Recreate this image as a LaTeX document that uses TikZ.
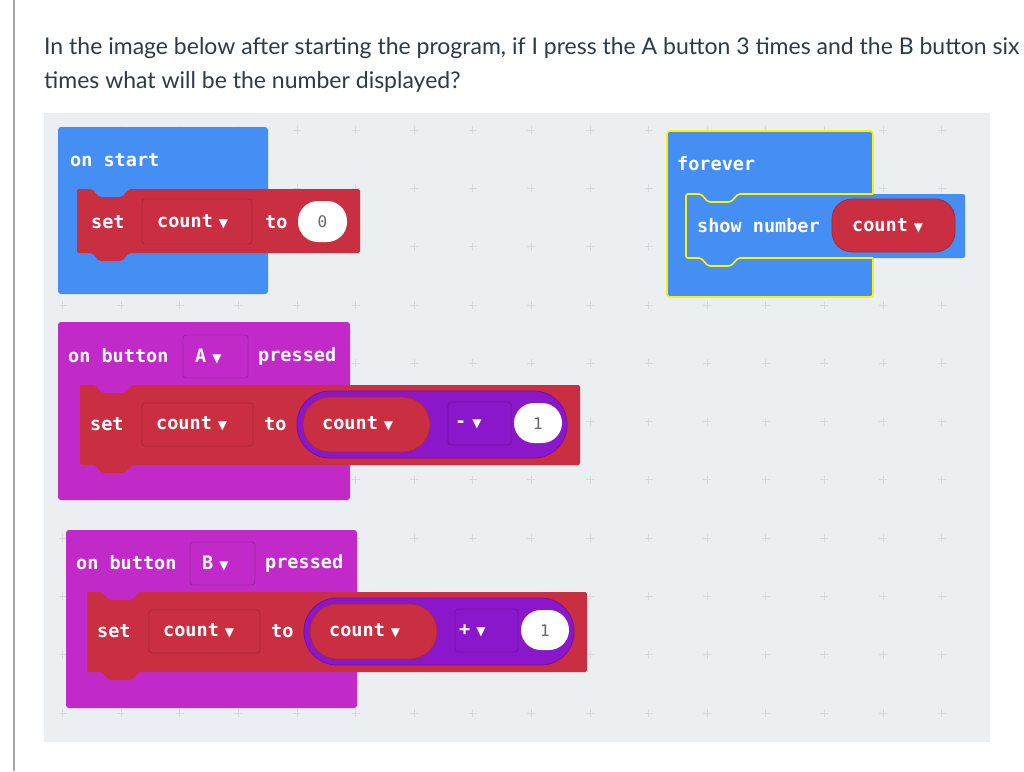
\documentclass[tikz,border=0pt]{standalone}
\usepackage{fontspec}
\setmainfont{Lato}
\newfontfamily\mono{DejaVu Sans Mono Bold}
\newfontfamily\monor{DejaVu Sans Mono}
\newfontfamily\dv{DejaVu Sans}
\definecolor{wsbg}{HTML}{ECEFF1}
\definecolor{mbblue}{HTML}{458EF4}
\definecolor{mbred}{HTML}{C92F41}
\definecolor{mbredd}{HTML}{A82838}
\definecolor{mbpurp}{HTML}{C12AC8}
\definecolor{mbop}{HTML}{8A17C9}
\definecolor{mbopd}{HTML}{7410AA}
\definecolor{mbyel}{HTML}{FFF200}
\definecolor{qtext}{HTML}{2D3B45}
\definecolor{plusc}{HTML}{D6DADD}
\newcommand{\dd}{\hspace{6pt}{\dv\fontsize{12}{12}\selectfont ▼}}
\newcommand{\stmtpath}[4]{% x y w h
  (#1,#2) -- ++(15,0) -- ++(7,8) -- ++(23,0) -- ++(7,-8) -- (#1+#3,#2) -- (#1+#3,#2+#4)
  -- (#1+52,#2+#4) -- ++(-7,8) -- ++(-23,0) -- ++(-7,-8) -- (#1,#2+#4) -- cycle}
\tikzset{
  bt/.style={text=white,font=\mono\fontsize{18.5}{19}\selectfont,anchor=west,inner sep=0pt},
  num/.style={text=gray!80!black,font=\monor\fontsize{16}{16}\selectfont},
  qt/.style={text=qtext,font=\fontsize{23}{26}\selectfont,anchor=base west,inner sep=0pt},
  ddbox/.style={draw=mbredd,line width=0.8pt,rounded corners=3pt},
  pill/.style={rounded corners=20pt},
}
\begin{document}
\begin{tikzpicture}[x=1pt,y=-1pt]
\useasboundingbox (0,0) rectangle (1024,771);
\fill[white] (0,0) rectangle (1024,771);
\draw[gray!70,line width=1.5pt] (14,0) -- (14,771);
\node[qt] (q1) at (44,54) {In the image below after starting the program, if I press the A button 3 times and the B button six};
\node[qt] (q2) at (44,88) {times what will be the number displayed?};
% workspace
\fill[wsbg] (44,113) rectangle (990,742);
\foreach \i in {0,...,15}{\foreach \j in {0,...,10}{
  \draw[plusc,line width=0.7pt] ({62.6+58.6*\i-4},{130+58.3*\j}) -- ++(8,0) ({62.6+58.6*\i},{130+58.3*\j-4}) -- ++(0,8);}}
% on start
\fill[mbblue,rounded corners=3pt] (58,127) rectangle (268,294);
\node[bt] (os) at (70,160) {on start};
\fill[mbred,rounded corners=2pt] \stmtpath{77}{189}{283}{64};
\node[bt] (s1) at (91,222) {set};
\draw[ddbox] (142,199) rectangle (252,244);
\node[bt] (c1) at (157,222) {count\dd};
\node[bt] (t1) at (265,222) {to};
\fill[white,pill] (298,201) rectangle (347,242);
\node[num] (z1) at (322.5,222) {0};
% forever
\fill[mbblue,rounded corners=3pt] (667,131) rectangle (873,297);
\draw[mbyel,line width=1.6pt,rounded corners=3pt] (667,131) rectangle (873,297);
\node[bt] (fv) at (677,164) {forever};
\fill[mbblue,rounded corners=2pt] \stmtpath{686}{194}{279}{64};
\begin{scope}
\clip (600,150) rectangle (873,300);
\draw[mbyel,line width=1.6pt,rounded corners=2pt] \stmtpath{686}{194}{279}{64};
\end{scope}
\node[bt] (sn) at (697,226) {show number};
\fill[mbred,pill] (832,199) rectangle (955,252);
\draw[mbredd,line width=0.8pt,pill] (832,199) rectangle (955,252);
\node[bt] (c0) at (852,226) {count\dd};
% on button A
\fill[mbpurp,rounded corners=3pt] (58,322) rectangle (350,500);
\node[bt] (oa) at (68,356) {on button};
\draw[mbpurp!80!black,line width=0.8pt,rounded corners=3pt] (183,335) rectangle (248,378);
\node[bt] (ba) at (195,356) {A\dd};
\node[bt] (pa) at (258,356) {pressed};
\fill[mbred,rounded corners=2pt] \stmtpath{80}{385}{500}{80};
\node[bt] (s2) at (90,424) {set};
\draw[ddbox] (142,403) rectangle (253,446);
\node[bt] (c2) at (156,424) {count\dd};
\node[bt] (t2) at (264,424) {to};
\fill[mbop,rounded corners=33pt] (297,391) rectangle (567,458);
\draw[mbopd,line width=0.8pt,rounded corners=33pt] (297,391) rectangle (567,458);
\fill[mbred,rounded corners=27pt] (303,397) rectangle (430,452);
\draw[mbredd,line width=0.8pt,rounded corners=27pt] (303,397) rectangle (430,452);
\node[bt] (c3) at (322,424) {count\dd};
\draw[mbopd,line width=0.8pt,rounded corners=3pt] (448,402) rectangle (511,445);
\node[bt] (m1) at (455,424) {-\dd};
\fill[white,pill] (514,403) rectangle (562,443);
\node[num] (o1) at (538,424) {1};
% on button B
\fill[mbpurp,rounded corners=3pt] (66,530) rectangle (357,708);
\node[bt] (ob) at (76,563) {on button};
\draw[mbpurp!80!black,line width=0.8pt,rounded corners=3pt] (190,542) rectangle (255,585);
\node[bt] (bb) at (202,563) {B\dd};
\node[bt] (pb) at (265,563) {pressed};
\fill[mbred,rounded corners=2pt] \stmtpath{87}{592}{500}{80};
\node[bt] (s3) at (97,631) {set};
\draw[ddbox] (149,610) rectangle (260,653);
\node[bt] (c4) at (163,631) {count\dd};
\node[bt] (t3) at (271,631) {to};
\fill[mbop,rounded corners=33pt] (304,598) rectangle (574,665);
\draw[mbopd,line width=0.8pt,rounded corners=33pt] (304,598) rectangle (574,665);
\fill[mbred,rounded corners=27pt] (310,604) rectangle (437,659);
\draw[mbredd,line width=0.8pt,rounded corners=27pt] (310,604) rectangle (437,659);
\node[bt] (c5) at (329,631) {count\dd};
\draw[mbopd,line width=0.8pt,rounded corners=3pt] (455,609) rectangle (518,652);
\node[bt] (p1) at (459,631) {+\dd};
\fill[white,pill] (521,610) rectangle (569,650);
\node[num] (o2) at (545,631) {1};
\end{tikzpicture}
\end{document}
